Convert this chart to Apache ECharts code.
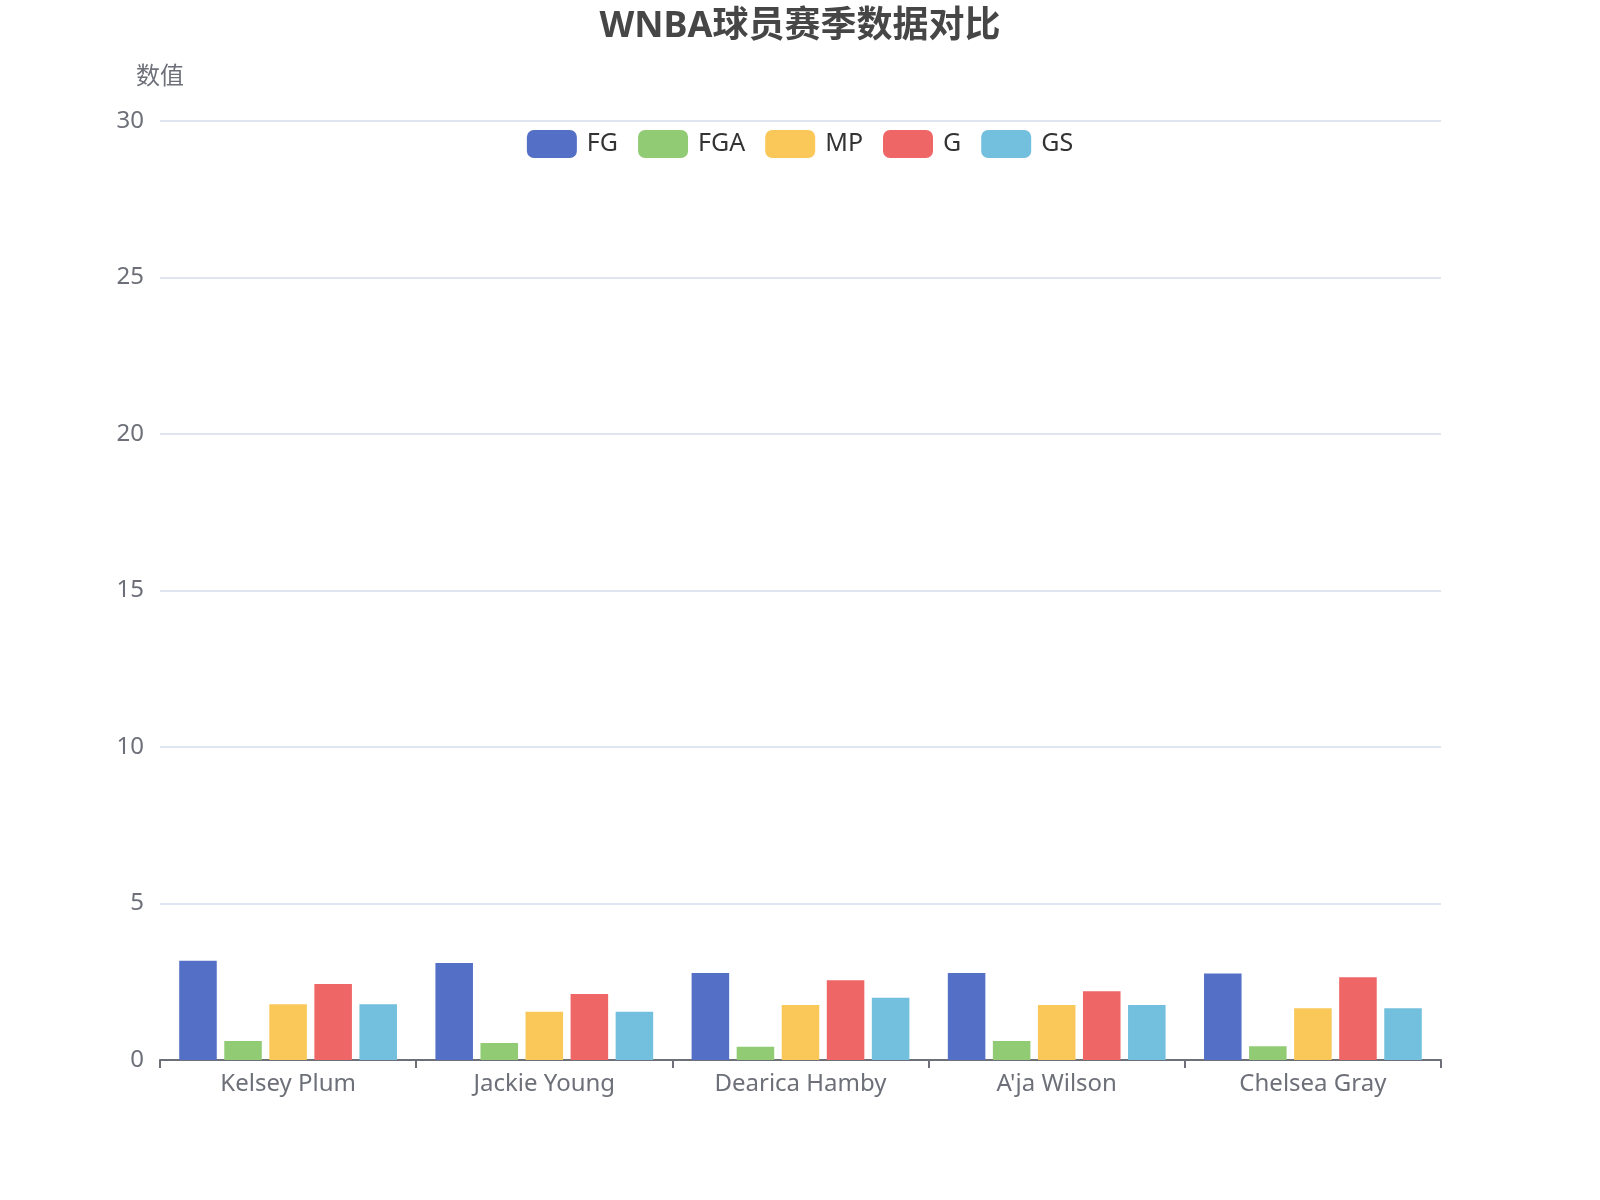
<!DOCTYPE html>
<html>
<head>
<meta charset="utf-8">
<title>WNBA球员赛季数据对比</title>
<script src="https://cdn.jsdelivr.net/npm/echarts@6/dist/echarts.min.js"></script>
<style>
  html, body { margin: 0; padding: 0; background: #fff; }
  #chart { width: 1600px; height: 1200px; }
</style>
</head>
<body>
<div id="chart"></div>
<script>
// players on the x axis
const players = ['Kelsey Plum', 'Jackie Young', 'Dearica Hamby', "A'ja Wilson", 'Chelsea Gray'];

// values
const fg  = [3.17, 3.10, 2.78, 2.78, 2.76];
const fga = [0.61, 0.54, 0.42, 0.61, 0.44];
const mp  = [1.78, 1.54, 1.76, 1.76, 1.65];
const g   = [2.43, 2.11, 2.55, 2.20, 2.64];
const gs  = [1.78, 1.54, 1.99, 1.76, 1.65];

const seriesNames = ['FG', 'FGA', 'MP', 'G', 'GS'];
const seriesData = [fg, fga, mp, g, gs];

const fontFamily = '"Noto Sans", "Noto Sans CJK SC", sans-serif';

let chart = echarts.init(document.getElementById('chart'));

let option = {
  color: ['#5470c6', '#91cc75', '#fac858', '#ee6666', '#73c0de'],
  textStyle: { fontFamily: fontFamily },
  title: {
    text: 'WNBA球员赛季数据对比',
    left: 'center',
    top: 4,
    textStyle: { fontSize: 36, fontWeight: 'bold', color: '#464646', fontFamily: fontFamily }
  },
  legend: {
    data: seriesNames,
    top: 125,
    left: 'center',
    itemWidth: 50,
    itemHeight: 28,
    itemGap: 20,
    textStyle: { fontSize: 25, color: '#333', fontFamily: fontFamily, padding: [0, 0, 0, 5] }
  },
  grid: {
    left: 160,
    right: 159,
    top: 121,
    bottom: 140,
    containLabel: false
  },
  xAxis: {
    type: 'category',
    data: players,
    axisLabel: { fontSize: 24, color: '#6E7079', margin: 12 },
    axisLine: { lineStyle: { color: '#6E7079', width: 2 } },
    axisTick: { show: true, length: 8, lineStyle: { color: '#6E7079', width: 2 } }
  },
  yAxis: {
    type: 'value',
    name: '数值',
    nameGap: 32,
    nameTextStyle: { fontSize: 24, color: '#6E7079', align: 'center' },
    min: 0,
    max: 30,
    interval: 5,
    axisLabel: { fontSize: 24, color: '#6E7079', margin: 16 },
    splitLine: { lineStyle: { color: '#E0E6F1', width: 2 } }
  },
  series: seriesNames.map((name, i) => ({
    name: name,
    type: 'bar',
    data: seriesData[i],
    barGap: '20%',
    barCategoryGap: '15%'
  }))
};

chart.setOption(option);
</script>
</body>
</html>
